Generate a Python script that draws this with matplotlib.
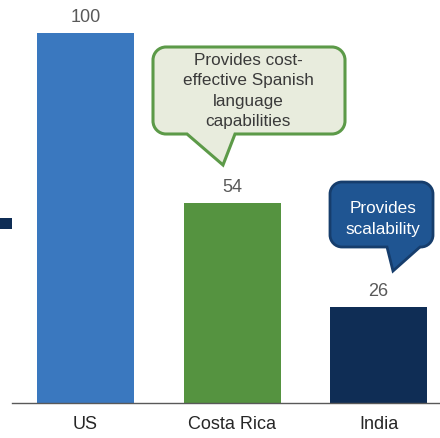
import matplotlib
matplotlib.use("Agg")
import matplotlib.pyplot as plt
import matplotlib.transforms as mtransforms
from matplotlib.path import Path
from matplotlib.patches import PathPatch, Rectangle

plt.rcParams['font.family'] = ['Liberation Sans', 'DejaVu Sans']

# Data
categories = ["US", "Costa Rica", "India"]
values = [100, 54, 26]
bar_colors = ["#3a78bf", "#559340", "#0f2d55"]
green_note = "Provides cost-\neffective Spanish\nlanguage\ncapabilities"
blue_note = "Provides\nscalability"

W, H, DPI = 440, 439, 100
fig = plt.figure(figsize=(W / DPI, H / DPI), dpi=DPI)
fig.patch.set_facecolor("white")

# Axes: baseline at 404 px from top, 3.7 px per unit, bars 146.5 px apart
base_px, unit_px, step_px, left_px = 404, 3.7, 146.5, 12
first_center = 85.5
ax = fig.add_axes([left_px / W, (H - base_px) / H, (W - left_px) / W, base_px / H])
ax.set_ylim(0, base_px / unit_px)
ax.set_xlim(-(first_center - left_px) / step_px, (W - first_center) / step_px)

x = list(range(len(categories)))
bars = ax.bar(x, values, width=97 / step_px, color=bar_colors, zorder=2)

for xi, v in zip(x, values):
    ax.annotate(f"{v}", (xi, v), xytext=(0, 8.6), textcoords="offset points",
                ha="center", va="baseline", fontsize=13, color="#595959")

for s in ["top", "left", "right"]:
    ax.spines[s].set_visible(False)
ax.spines["bottom"].set_color("#595959")
ax.spines["bottom"].set_linewidth(1.0)
ax.set_yticks([])
ax.set_xticks(x)
ax.set_xticklabels(categories, fontsize=13, color="#262626")
ax.tick_params(axis="x", length=0, pad=9)

# Pixel transform with origin at top-left of the figure
px = mtransforms.Affine2D().scale(1 / DPI, -1 / DPI).translate(0, H / DPI) + fig.dpi_scale_trans


def callout_path(x0, y0, x1, y1, r, tail_left, tail_right, tip):
    k = 0.5523 * r
    verts = [
        (x0 + r, y0), (x1 - r, y0),
        (x1 - r + k, y0), (x1, y0 + r - k), (x1, y0 + r),
        (x1, y1 - r),
        (x1, y1 - r + k), (x1 - r + k, y1), (x1 - r, y1),
        (tail_right, y1), tip, (tail_left, y1),
        (x0 + r, y1),
        (x0 + r - k, y1), (x0, y1 - r + k), (x0, y1 - r),
        (x0, y0 + r),
        (x0, y0 + r - k), (x0 + r - k, y0), (x0 + r, y0),
        (x0 + r, y0),
    ]
    codes = [Path.MOVETO, Path.LINETO,
             Path.CURVE4, Path.CURVE4, Path.CURVE4,
             Path.LINETO,
             Path.CURVE4, Path.CURVE4, Path.CURVE4,
             Path.LINETO, Path.LINETO, Path.LINETO,
             Path.LINETO,
             Path.CURVE4, Path.CURVE4, Path.CURVE4,
             Path.LINETO,
             Path.CURVE4, Path.CURVE4, Path.CURVE4,
             Path.CLOSEPOLY]
    return Path(verts, codes)


green = callout_path(153, 48, 345, 135, 13, 187, 235, (223, 166))
fig.add_artist(PathPatch(green, transform=px, facecolor="#e8ecdd",
                         edgecolor="#5c9a48", linewidth=2.2, zorder=5))
fig.text(248 / W, 1 - 91 / H, green_note, ha="center", va="center",
         fontsize=12.3, color="#3a3a3a", linespacing=1.45, zorder=6)

blue = callout_path(330, 183, 433, 248, 12, 387, 420, (393, 272))
fig.add_artist(PathPatch(blue, transform=px, facecolor="#1f5592",
                         edgecolor="#163d6c", linewidth=2.0, zorder=5))
fig.text(383 / W, 1 - 219 / H, blue_note, ha="center", va="center",
         fontsize=12.3, color="white", linespacing=1.45, zorder=6)

# Legend swatch at the left edge
fig.add_artist(Rectangle((0, 219), 12, 11, transform=px, facecolor="#0f2d55",
                         edgecolor="none", zorder=5))

fig.savefig("out.png", dpi=DPI, facecolor="white")
